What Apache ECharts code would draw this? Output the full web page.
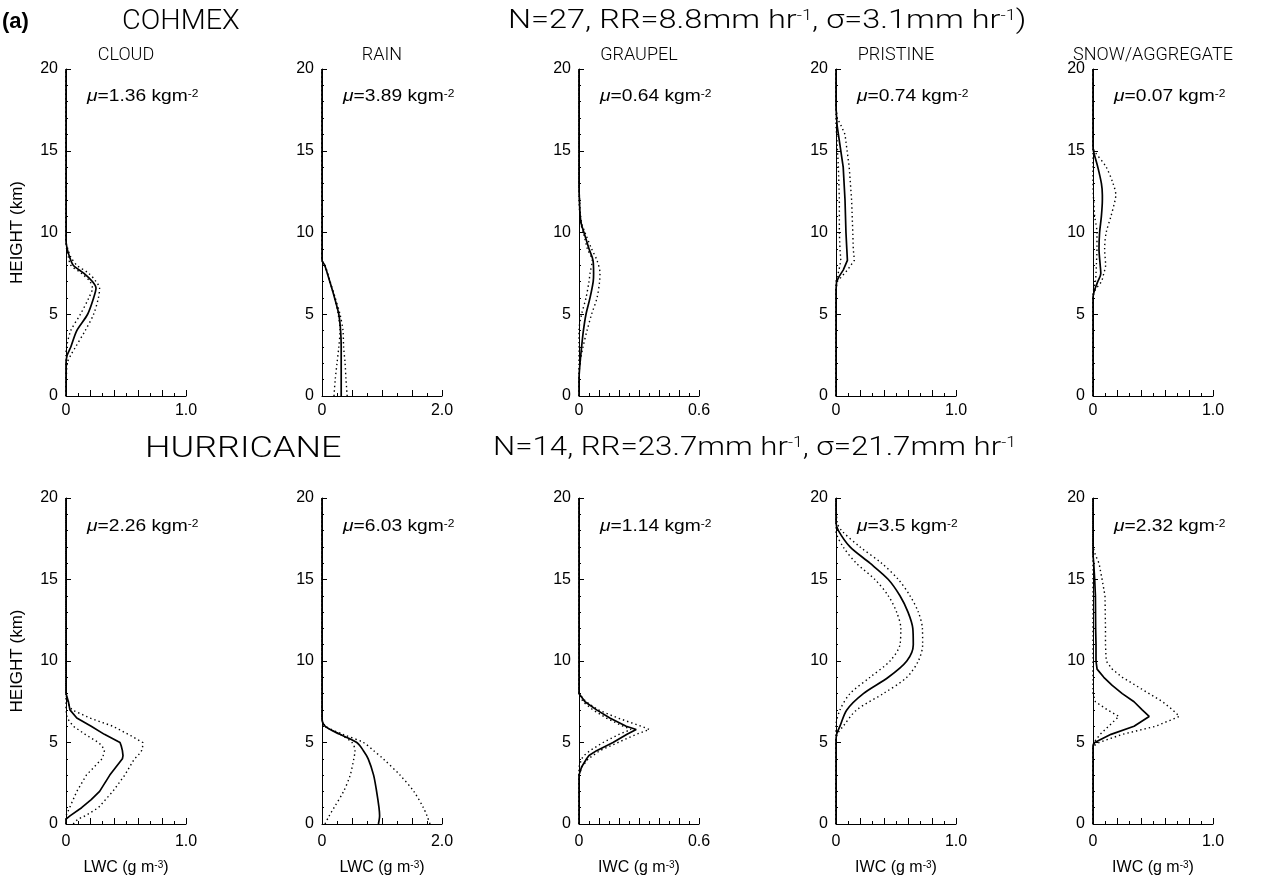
<!DOCTYPE html>
<html>
<head>
<meta charset="utf-8">
<script src="https://cdn.jsdelivr.net/npm/echarts/dist/echarts.min.js"></script>
<style>
  html, body { margin: 0; padding: 0; background: #fff; }
  #chart { width: 1262px; height: 877px; }
</style>
</head>
<body>
<div id="chart"></div>
<script>
// ---- Panel metadata ----
const panelTitles = ['CLOUD', 'RAIN', 'GRAUPEL', 'PRISTINE', 'SNOW/AGGREGATE'];
const xMaxes = [1.0, 2.0, 0.6, 1.0, 1.0];
const xTickSteps = [0.2, 0.5, 0.1, 0.2, 0.2];
const xQuantities = ['LWC', 'LWC', 'IWC', 'IWC', 'IWC'];
const yTicks = [0, 5, 10, 15, 20];
const cohmexMu = ['1.36', '3.89', '0.64', '0.74', '0.07'];
const hurricaneMu = ['2.26', '6.03', '1.14', '3.5', '2.32'];

// ---- COHMEX profiles: height (km), mean and spread (g m^-3) ----
const cohCloudH    = [0, 2, 2.5, 3, 4, 5, 6, 6.6, 7, 7.5, 8, 8.5, 9, 9.5, 20];
const cohCloudMean = [0, 0, 0.01, 0.04, 0.09, 0.18, 0.23, 0.25, 0.22, 0.15, 0.06, 0.03, 0.01, 0, 0];
const cohCloudLo   = [0, 0, 0, 0.005, 0.04, 0.12, 0.19, 0.22, 0.2, 0.13, 0.04, 0.02, 0.005, 0, 0];
const cohCloudHi   = [0, 0.01, 0.04, 0.08, 0.16, 0.23, 0.27, 0.28, 0.25, 0.19, 0.09, 0.04, 0.015, 0, 0];

const cohRainH    = [0, 1, 2, 3, 4, 5, 6, 7, 8, 8.3, 20];
const cohRainMean = [0.32, 0.32, 0.32, 0.32, 0.31, 0.28, 0.21, 0.13, 0.045, 0, 0];
const cohRainLo   = [0.2, 0.22, 0.25, 0.28, 0.3, 0.27, 0.21, 0.13, 0.045, 0, 0];
const cohRainHi   = [0.42, 0.4, 0.385, 0.36, 0.35, 0.3, 0.22, 0.135, 0.05, 0, 0];

const cohGraupelH    = [0, 1, 2, 3, 4, 5, 6, 7, 7.5, 8.3, 9, 10, 10.5, 11, 12, 13, 20];
const cohGraupelMean = [0, 0, 0.005, 0.013, 0.022, 0.035, 0.055, 0.071, 0.073, 0.07, 0.05, 0.025, 0.012, 0.006, 0.002, 0, 0];
const cohGraupelLo   = [0, 0, 0, 0, 0, 0.013, 0.035, 0.05, 0.055, 0.066, 0.042, 0.022, 0.01, 0.005, 0, 0, 0];
const cohGraupelHi   = [0, 0, 0.005, 0.02, 0.04, 0.063, 0.09, 0.103, 0.105, 0.09, 0.063, 0.03, 0.015, 0.008, 0.003, 0, 0];

const cohPristineH    = [0, 6.5, 7, 7.3, 7.7, 8.3, 9, 10, 12, 14, 16, 16.5, 17, 17.7, 20];
const cohPristineMean = [0, 0, 0.005, 0.025, 0.06, 0.095, 0.09, 0.083, 0.075, 0.06, 0.02, 0.01, 0.005, 0, 0];
const cohPristineLo   = [0, 0, 0, 0.01, 0.025, 0.04, 0.033, 0.028, 0.028, 0.02, 0.005, 0, 0, 0, 0];
const cohPristineHi   = [0, 0, 0.01, 0.047, 0.095, 0.153, 0.144, 0.14, 0.13, 0.11, 0.075, 0.045, 0.01, 0, 0];

const cohSnowH    = [0, 6, 6.5, 7, 7.5, 8, 9, 10, 11, 12, 12.3, 13, 14, 15, 15.3, 20];
const cohSnowMean = [0, 0, 0.014, 0.04, 0.065, 0.06, 0.05, 0.055, 0.07, 0.078, 0.078, 0.07, 0.04, 0.003, 0, 0];
const cohSnowLo   = [0, 0, 0.005, 0.02, 0.025, 0.028, 0.033, 0.033, 0.014, 0.005, 0.003, 0, 0, 0, 0, 0];
const cohSnowHi   = [0, 0, 0.02, 0.07, 0.09, 0.105, 0.097, 0.11, 0.15, 0.185, 0.19, 0.167, 0.11, 0.01, 0, 0];

// ---- Hurricane profiles ----
const hurCloudH    = [0, 0.3, 0.5, 1, 1.5, 2, 3, 4, 4.2, 4.5, 4.8, 5, 5.5, 6, 6.5, 7, 7.5, 8, 20];
const hurCloudMean = [0, 0, 0.033, 0.13, 0.21, 0.28, 0.365, 0.47, 0.475, 0.47, 0.46, 0.45, 0.32, 0.21, 0.09, 0.033, 0.02, 0, 0];
const hurCloudLo   = [0, 0, 0, 0.03, 0.06, 0.09, 0.17, 0.3, 0.31, 0.32, 0.3, 0.27, 0.16, 0.06, 0.01, 0, 0, 0, 0];
const hurCloudHi   = [0.06, 0.1, 0.16, 0.27, 0.33, 0.39, 0.49, 0.57, 0.6, 0.63, 0.64, 0.64, 0.52, 0.39, 0.2, 0.05, 0.01, 0, 0];

const hurRainH    = [0, 0.5, 1, 2, 3, 4, 4.5, 5, 5.5, 6, 6.5, 20];
const hurRainMean = [0.94, 0.96, 0.95, 0.91, 0.86, 0.77, 0.69, 0.58, 0.3, 0.05, 0, 0];
const hurRainLo   = [0.05, 0.12, 0.2, 0.36, 0.47, 0.53, 0.55, 0.5, 0.3, 0.05, 0, 0];
const hurRainHi   = [1.8, 1.75, 1.69, 1.53, 1.3, 1.02, 0.86, 0.69, 0.35, 0.06, 0, 0];

const hurGraupelH    = [0, 3, 3.5, 4, 4.2, 4.5, 5, 5.5, 5.8, 6, 6.5, 7, 7.5, 8, 20];
const hurGraupelMean = [0, 0, 0.013, 0.038, 0.05, 0.088, 0.17, 0.24, 0.286, 0.236, 0.154, 0.088, 0.03, 0, 0];
const hurGraupelLo   = [0, 0, 0, 0.013, 0.025, 0.055, 0.12, 0.2, 0.26, 0.22, 0.137, 0.07, 0.02, 0, 0];
const hurGraupelHi   = [0, 0, 0.015, 0.046, 0.07, 0.104, 0.195, 0.286, 0.352, 0.31, 0.195, 0.096, 0.035, 0, 0];

const hurPristineH    = [0, 5, 5.5, 6, 7, 8, 9, 10, 11, 12, 13, 14, 15, 16, 17, 18, 18.5, 20];
const hurPristineMean = [0, 0, 0.005, 0.033, 0.09, 0.228, 0.436, 0.59, 0.644, 0.64, 0.6, 0.533, 0.436, 0.283, 0.117, 0.02, 0, 0];
const hurPristineLo   = [0, 0, 0, 0, 0.033, 0.117, 0.283, 0.45, 0.533, 0.54, 0.505, 0.436, 0.325, 0.17, 0.06, 0, 0, 0];
const hurPristineHi   = [0, 0, 0.01, 0.06, 0.172, 0.394, 0.59, 0.686, 0.722, 0.72, 0.686, 0.617, 0.52, 0.38, 0.2, 0.047, 0.01, 0];

const hurSnowH    = [0, 4.5, 4.8, 5, 5.5, 6, 6.6, 7, 7.5, 8, 8.5, 9, 9.5, 10, 11, 12, 14, 15, 16, 16.5, 17, 20];
const hurSnowMean = [0, 0, 0, 0.014, 0.15, 0.342, 0.468, 0.41, 0.342, 0.244, 0.16, 0.09, 0.034, 0.025, 0.025, 0.022, 0.02, 0.014, 0.006, 0, 0, 0];
const hurSnowLo   = [0, 0, 0, 0.006, 0.06, 0.13, 0.216, 0.12, 0.02, 0, 0, 0, 0, 0, 0, 0, 0, 0, 0, 0, 0, 0];
const hurSnowHi   = [0, 0, 0.006, 0.05, 0.244, 0.524, 0.72, 0.664, 0.58, 0.468, 0.356, 0.244, 0.16, 0.11, 0.104, 0.104, 0.1, 0.076, 0.05, 0.02, 0, 0];

const profiles = [
  [cohCloudH, cohCloudMean, cohCloudLo, cohCloudHi],
  [cohRainH, cohRainMean, cohRainLo, cohRainHi],
  [cohGraupelH, cohGraupelMean, cohGraupelLo, cohGraupelHi],
  [cohPristineH, cohPristineMean, cohPristineLo, cohPristineHi],
  [cohSnowH, cohSnowMean, cohSnowLo, cohSnowHi],
  [hurCloudH, hurCloudMean, hurCloudLo, hurCloudHi],
  [hurRainH, hurRainMean, hurRainLo, hurRainHi],
  [hurGraupelH, hurGraupelMean, hurGraupelLo, hurGraupelHi],
  [hurPristineH, hurPristineMean, hurPristineLo, hurPristineHi],
  [hurSnowH, hurSnowMean, hurSnowLo, hurSnowHi]
];
// curves drawn smoothly vs. as straight segments
const smoothPanels = [true, true, true, false, true, false, true, false, true, false];

// ---- Layout ----
const gridLefts = [66, 322, 579, 836, 1093];
const gridWidth = 120;
const rowTops = [69, 498];
const rowHeights = [327, 329];

const tickFont = 'Liberation Sans, Arial, sans-serif';
const thinFont = 'Roboto, sans-serif';
const black = '#000';

const grids = [], xAxes = [], yAxes = [], series = [];
for (let r = 0; r < 2; r++) {
  for (let c = 0; c < 5; c++) {
    const i = r * 5 + c;
    const xMax = xMaxes[c];
    grids.push({ left: gridLefts[c], top: rowTops[r], width: gridWidth, height: rowHeights[r] });
    xAxes.push({
      gridIndex: i, type: 'value', min: 0, max: xMax, interval: xTickSteps[c],
      axisLine: { show: true, onZero: false, lineStyle: { color: black, width: 1 } },
      axisTick: { show: true, inside: true, length: 6, lineStyle: { color: black, width: 1 } },
      minorTick: { show: true, splitNumber: 2, length: 3, lineStyle: { color: black, width: 1 } },
      splitLine: { show: false },
      axisLabel: {
        color: black, fontFamily: tickFont, fontSize: 16, margin: r === 0 ? 7 : 10,
        showMinLabel: true, showMaxLabel: true,
        formatter: v => (v === 0 ? '0' : (Math.abs(v - xMax) < 1e-6 ? xMax.toFixed(1) : ''))
      },
      name: r === 1 ? xQuantities[c] + ' (g m{sup|-3})' : '',
      nameLocation: 'middle', nameGap: 36,
      nameTextStyle: {
        color: black, fontFamily: tickFont, fontSize: 16,
        rich: { sup: { fontSize: 10, verticalAlign: 'top', fontFamily: tickFont, color: black } }
      }
    });
    yAxes.push({
      gridIndex: i, type: 'value', min: 0, max: 20, interval: 5,
      axisLine: { show: true, onZero: false, lineStyle: { color: black, width: 1 } },
      axisTick: { show: true, inside: true, length: 5, lineStyle: { color: black, width: 1 } },
      minorTick: { show: true, splitNumber: 5, length: 2, lineStyle: { color: black, width: 1 } },
      splitLine: { show: false },
      axisLabel: {
        color: black, fontFamily: tickFont, fontSize: 16, margin: 8,
        formatter: v => (yTicks.indexOf(v) >= 0 ? String(v) : '')
      },
      name: c === 0 ? 'HEIGHT (km)' : '',
      nameLocation: 'middle', nameGap: 40,
      nameTextStyle: { color: black, fontFamily: tickFont, fontSize: 17 }
    });
    const [h, mean, lo, hi] = profiles[i];
    const toPts = vals => h.map((y, k) => [vals[k], y]);
    const base = {
      type: 'line', xAxisIndex: i, yAxisIndex: i, symbol: 'none', showSymbol: false,
      smooth: smoothPanels[i] ? 0.3 : false, animation: false, silent: true
    };
    series.push(Object.assign({}, base, { data: toPts(lo), lineStyle: { color: black, width: 1.4, type: [1.4, 3] } }));
    series.push(Object.assign({}, base, { data: toPts(hi), lineStyle: { color: black, width: 1.4, type: [1.4, 3] } }));
    series.push(Object.assign({}, base, { data: toPts(mean), lineStyle: { color: black, width: 1.7 } }));
  }
}

// ---- Text annotations ----
const graphics = [];
function addText(x, y, text, opts, scaleX) {
  graphics.push({
    type: 'text', x: x, y: y, scaleX: scaleX || 1, silent: true,
    style: Object.assign({
      text: text, fill: black, align: 'left', verticalAlign: 'middle'
    }, opts)
  });
}
const headRich = {
  sup: { fontSize: 14, verticalAlign: 'top', fontFamily: thinFont, fontWeight: 300, fill: black }
};
addText(2, 22, '(a)', { fontFamily: tickFont, fontSize: 22, fontWeight: 'bold' });
addText(122, 22, 'COHMEX', { fontFamily: thinFont, fontWeight: 300, fontSize: 28 }, 1.03);
addText(508, 22, 'N=27, RR=8.8mm hr{sup|-1}, σ=3.1mm hr{sup|-1})',
  { fontFamily: thinFont, fontWeight: 300, fontSize: 25, rich: headRich }, 1.3);
addText(145, 449, 'HURRICANE', { fontFamily: thinFont, fontWeight: 300, fontSize: 30 }, 1.2);
addText(493, 449, 'N=14, RR=23.7mm hr{sup|-1}, σ=21.7mm hr{sup|-1}',
  { fontFamily: thinFont, fontWeight: 300, fontSize: 25, rich: headRich }, 1.25);

const muRich = {
  mu: { fontStyle: 'italic', fontFamily: tickFont, fontSize: 16, fill: black },
  sup: { fontSize: 10, verticalAlign: 'top', fontFamily: tickFont, fill: black }
};
for (let c = 0; c < 5; c++) {
  addText(gridLefts[c] + gridWidth / 2, 55, panelTitles[c],
    { fontFamily: thinFont, fontWeight: 300, fontSize: 18, align: 'center' });
  addText(gridLefts[c] + 21, rowTops[0] + 28, '{mu|μ}=' + cohmexMu[c] + ' kgm{sup|-2}',
    { fontFamily: tickFont, fontSize: 16, rich: muRich }, 1.2);
  addText(gridLefts[c] + 21, rowTops[1] + 29, '{mu|μ}=' + hurricaneMu[c] + ' kgm{sup|-2}',
    { fontFamily: tickFont, fontSize: 16, rich: muRich }, 1.2);
}

const chart = echarts.init(document.getElementById('chart'), null, { renderer: 'canvas' });
chart.setOption({
  backgroundColor: '#fff',
  animation: false,
  grid: grids,
  xAxis: xAxes,
  yAxis: yAxes,
  series: series,
  graphic: graphics
});
</script>
</body>
</html>
